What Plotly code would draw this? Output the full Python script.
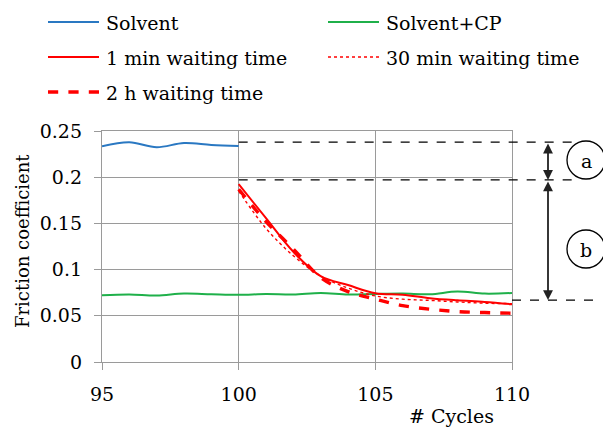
import plotly.graph_objects as go

# ---- data -------------------------------------------------------------
cycles_solvent = [95, 96, 97, 98, 99, 100]
solvent = [0.2335, 0.2378, 0.2324, 0.2370, 0.2349, 0.2338]

cycles_cp = list(range(95, 111))
solvent_cp = [0.0722, 0.0730, 0.0719, 0.0740, 0.0733, 0.0727, 0.0735, 0.0730,
              0.0747, 0.0730, 0.0736, 0.0740, 0.0733, 0.0762, 0.0740, 0.0747]

cycles_wait = list(range(100, 111))
wait_1min = [0.1924, 0.1557, 0.1193, 0.0930, 0.0833, 0.0744, 0.0729, 0.0690, 0.0667, 0.0650, 0.0625]
wait_30min = [0.1850, 0.1446, 0.1150, 0.0930, 0.0800, 0.0715, 0.0680, 0.0667, 0.0650, 0.0636, 0.0632]
wait_2h = [0.1870, 0.1520, 0.1223, 0.0915, 0.0762, 0.0680, 0.0610, 0.0571, 0.0546, 0.0535, 0.0528]

series_names = ["Solvent", "Solvent+CP", "1 min waiting time",
                "30 min waiting time", "2 h waiting time"]

x_ticks = [95, 100, 105, 110]
y_ticks = [0, 0.05, 0.1, 0.15, 0.2, 0.25]
y_tick_labels = ["0", "0.05", "0.1", "0.15", "0.2", "0.25"]

# levels marked on the right: solvent, start of run-in, steady state with CP
level_solvent = 0.238
level_start = 0.197
level_steady = 0.067

# ---- styling ----------------------------------------------------------
FONT = "DejaVu Serif"
FS = 19
FS_YTITLE = 18
W, H = 603, 429
L, R, T, B = 102, 91, 131, 67
PW, PH = W - L - R, H - T - B
X_RANGE = [95, 110]

BLUE, GREEN, RED = "#2a78c2", "#1fb04a", "#ff0000"
styles = [
    dict(color=BLUE, width=2, dash="solid"),
    dict(color=GREEN, width=2, dash="solid"),
    dict(color=RED, width=2, dash="solid"),
    dict(color=RED, width=1.4, dash="dot"),
    dict(color=RED, width=3.4, dash="dash"),
]


def px_x(px):
    return (px - L) / PW


def px_y(py):
    return (H - B - py) / PH


def data_x_to_paper(x):
    return (x - X_RANGE[0]) / (X_RANGE[1] - X_RANGE[0])


fig = go.Figure()
for xs, ys, name, st in [
    (cycles_solvent, solvent, series_names[0], styles[0]),
    (cycles_cp, solvent_cp, series_names[1], styles[1]),
    (cycles_wait, wait_30min, series_names[3], styles[3]),
    (cycles_wait, wait_2h, series_names[4], styles[4]),
    (cycles_wait, wait_1min, series_names[2], styles[2]),
]:
    fig.add_trace(go.Scatter(x=xs, y=ys, name=name, mode="lines",
                             line=dict(shape="spline", smoothing=1.0, **st),
                             showlegend=False))

shapes = []
annotations = []

# legend drawn as two columns above the plot
legend_pos = [(48, 22), (328, 22), (48, 57), (328, 57), (48, 92)]
for name, st, (lx, ly) in zip(series_names, styles, legend_pos):
    shapes.append(dict(type="line", xref="paper", yref="paper",
                       x0=px_x(lx), x1=px_x(lx + 51), y0=px_y(ly), y1=px_y(ly),
                       line=st))
    annotations.append(dict(text=name, xref="paper", yref="paper",
                            x=px_x(lx + 56), y=px_y(ly + 1), xanchor="left",
                            yanchor="middle", showarrow=False,
                            font=dict(family=FONT, size=FS, color="black")))

# dashed guide lines for the friction levels
guide = dict(color="black", width=1.2, dash="dash")
for lvl, x0 in [(level_solvent, data_x_to_paper(100)),
                (level_start, data_x_to_paper(100))]:
    shapes.append(dict(type="line", xref="paper", yref="y", x0=x0, x1=px_x(572),
                       y0=lvl, y1=lvl, line=guide))
shapes.append(dict(type="line", xref="paper", yref="y", x0=data_x_to_paper(110),
                   x1=px_x(597), y0=level_steady, y1=level_steady, line=guide))

# double-headed arrows a and b
arrow_x = px_x(548)
for top, bottom in [(level_solvent, level_start), (level_start, level_steady)]:
    annotations.append(dict(text="", xref="paper", yref="y", x=arrow_x, y=bottom,
                            ax=0, ay=top, axref="pixel", ayref="y",
                            showarrow=True, arrowside="end+start", arrowhead=2,
                            startarrowhead=2, arrowsize=1.1, startarrowsize=1.1,
                            arrowwidth=1.8, arrowcolor="#222222",
                            standoff=0, startstandoff=0))

# circled labels
for label, cy in [("a", 160), ("b", 249)]:
    r = 19
    shapes.append(dict(type="circle", xref="paper", yref="paper",
                       x0=px_x(586 - r), x1=px_x(586 + r),
                       y0=px_y(cy + r), y1=px_y(cy - r),
                       line=dict(color="black", width=1.3)))
    annotations.append(dict(text=label, xref="paper", yref="paper",
                            x=px_x(586), y=px_y(cy + 1), showarrow=False,
                            xanchor="center", yanchor="middle",
                            font=dict(family=FONT, size=FS, color="black")))

# axis titles
annotations.append(dict(text="Friction coefficient", xref="paper", yref="paper",
                        x=px_x(22), y=px_y(241), textangle=-90, showarrow=False,
                        xanchor="center", yanchor="middle",
                        font=dict(family=FONT, size=FS_YTITLE, color="black")))
annotations.append(dict(text="# Cycles", xref="paper", yref="paper",
                        x=px_x(451), y=px_y(416), showarrow=False,
                        xanchor="center", yanchor="middle",
                        font=dict(family=FONT, size=FS, color="black")))

grid_color = "#9a9a9a"
fig.update_layout(
    width=W, height=H,
    margin=dict(l=L, r=R, t=T, b=B, pad=0),
    paper_bgcolor="white", plot_bgcolor="white",
    font=dict(family=FONT, size=FS, color="black"),
    shapes=shapes, annotations=annotations,
    showlegend=False,
    xaxis=dict(range=X_RANGE, tickvals=x_ticks, showgrid=True, gridcolor=grid_color,
               gridwidth=1.3, showline=True, linecolor=grid_color, linewidth=1.3,
               mirror=True, ticks="outside", ticklen=7, tickcolor=grid_color,
               tickwidth=1.3, zeroline=False, ticklabelstandoff=8),
    yaxis=dict(range=[0, 0.25], tickvals=y_ticks, ticktext=y_tick_labels,
               showgrid=True, gridcolor=grid_color, gridwidth=1.3, showline=True,
               linecolor=grid_color, linewidth=1.3, mirror=True, ticks="outside",
               ticklen=7, tickcolor=grid_color, tickwidth=1.3, zeroline=False,
               ticklabelstandoff=8),
)

fig.write_html("out.html")
